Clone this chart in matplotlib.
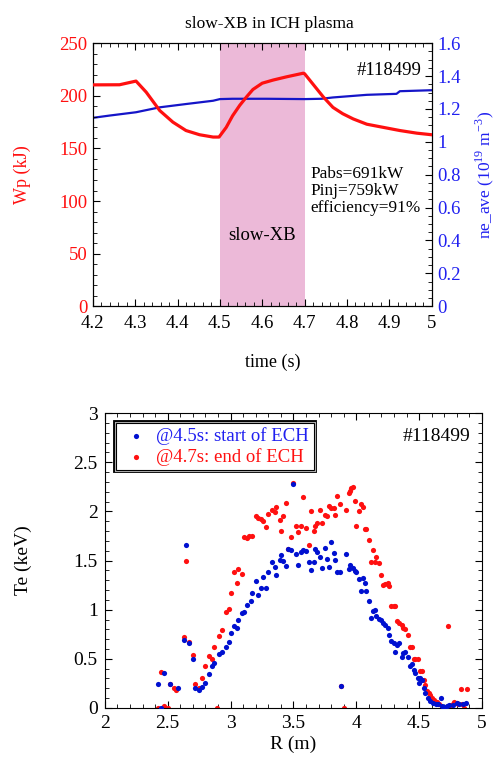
import matplotlib
matplotlib.use("Agg")
import matplotlib.pyplot as plt
import matplotlib.patheffects as pe
from matplotlib.ticker import MultipleLocator, FuncFormatter

plt.rcParams['font.family'] = ['Liberation Serif', 'DejaVu Serif']
plt.rcParams['mathtext.fontset'] = 'custom'
plt.rcParams['mathtext.rm'] = 'Liberation Serif'

# ---- top panel data ----
wp_time = [4.2, 4.263, 4.302, 4.326, 4.358, 4.389, 4.42, 4.452, 4.484, 4.498,
           4.515, 4.53, 4.547, 4.563, 4.578, 4.60, 4.626, 4.657, 4.697, 4.70,
           4.72, 4.744, 4.767, 4.79, 4.815, 4.847, 4.886, 4.925, 4.965, 5.0]
wp_val = [210.4, 210.5, 214, 203.5, 186, 175, 167, 163, 160.8, 160.8,
          170, 181, 191, 199, 206, 212, 215, 218, 221.5, 221,
          211, 199, 189, 183, 178, 173, 170, 167, 164.5, 163]
ne_time = [4.2, 4.24, 4.302, 4.358, 4.42, 4.484, 4.5, 4.53, 4.61, 4.7,
           4.74, 4.767, 4.807, 4.847, 4.917, 4.925, 5.0]
ne_val = [1.146, 1.16, 1.18, 1.21, 1.23, 1.25, 1.26, 1.262, 1.262, 1.26,
          1.262, 1.27, 1.278, 1.286, 1.292, 1.308, 1.314]
ech_start, ech_end = 4.5, 4.7

# ---- bottom panel data ----
R_45 = [2.42, 2.45, 2.47, 2.52, 2.58, 2.645, 2.63, 2.67, 2.70, 2.72, 2.75, 2.77,
        2.80, 2.83, 2.85, 2.87, 2.91, 2.93, 2.96, 2.99, 3.00, 3.03, 3.05, 3.06,
        3.09, 3.11, 3.13, 3.16, 3.17, 3.20, 3.22, 3.24, 3.26, 3.28, 3.30, 3.33,
        3.35, 3.36, 3.39, 3.40, 3.42, 3.44, 3.46, 3.48, 3.50, 3.52, 3.54, 3.56,
        3.58, 3.60, 3.62, 3.64, 3.66, 3.67, 3.69, 3.71, 3.73, 3.75, 3.77, 3.78,
        3.80, 3.82, 3.83, 3.85, 3.87, 3.88, 3.92, 3.94, 3.95, 3.97, 3.99, 4.00,
        4.02, 4.04, 4.05, 4.07, 4.08, 4.10, 4.12, 4.13, 4.15, 4.16, 4.18, 4.20,
        4.21, 4.23, 4.25, 4.26, 4.28, 4.30, 4.31, 4.32, 4.34, 4.36, 4.37, 4.39,
        4.41, 4.43, 4.44, 4.46, 4.47, 4.49, 4.51, 4.50, 4.52, 4.54, 4.55, 4.57,
        4.59, 4.61, 4.63, 4.65, 4.67, 4.68, 4.70, 4.72, 4.74, 4.77, 4.80, 4.82,
        4.85, 4.87]
Te_45 = [0.24, 0.0, 0.36, 0.24, 0.20, 1.66, 0.69, 0.66, 0.50, 0.20, 0.18, 0.21,
         0.25, 0.35, 0.43, 0.46, 0.55, 0.57, 0.62, 0.67, 0.76, 0.83, 0.81, 0.90,
         0.97, 0.98, 1.05, 1.09, 1.17, 1.29, 1.15, 1.22, 1.33, 1.22, 1.38, 1.49,
         1.43, 1.35, 1.51, 1.56, 1.50, 1.44, 1.62, 1.61, 2.28, 1.57, 1.45, 1.59,
         1.61, 1.60, 1.49, 1.40, 1.49, 1.62, 1.59, 1.54, 1.42, 1.63, 1.52, 1.43,
         1.69, 1.58, 1.51, 1.38, 1.38, 0.22, 1.57, 1.41, 1.45, 1.42, 1.39, 1.38,
         1.31, 1.19, 1.32, 1.27, 1.19, 1.09, 0.92, 0.99, 1.00, 0.94, 0.91, 0.90,
         0.86, 0.84, 0.81, 0.74, 0.68, 0.66, 0.57, 0.64, 0.66, 0.52, 0.56, 0.57,
         0.52, 0.43, 0.45, 0.39, 0.36, 0.31, 0.31, 0.25, 0.28, 0.20, 0.15, 0.10,
         0.07, 0.05, 0.04, 0.04, 0.10, 0.02, 0.01, 0.02, 0.03, 0.03, 0.05, 0.04,
         0.04, 0.05]
R_47 = [2.42, 2.45, 2.47, 2.50, 2.52, 2.55, 2.57, 2.63, 2.645, 2.67, 2.70, 2.72,
        2.75, 2.77, 2.80, 2.83, 2.85, 2.87, 2.89, 2.91, 2.93, 2.96, 2.99, 3.00,
        3.03, 3.05, 3.06, 3.09, 3.11, 3.13, 3.15, 3.17, 3.20, 3.22, 3.24, 3.26,
        3.28, 3.30, 3.33, 3.35, 3.36, 3.39, 3.40, 3.42, 3.44, 3.46, 3.48, 3.50,
        3.52, 3.54, 3.56, 3.58, 3.60, 3.62, 3.64, 3.66, 3.67, 3.69, 3.71, 3.73,
        3.75, 3.77, 3.78, 3.80, 3.82, 3.83, 3.85, 3.87, 3.88, 3.90, 3.92, 3.94,
        3.95, 3.96, 3.97, 3.99, 4.00, 4.02, 4.04, 4.05, 4.07, 4.08, 4.10, 4.12,
        4.13, 4.15, 4.16, 4.18, 4.20, 4.21, 4.23, 4.25, 4.26, 4.28, 4.30, 4.31,
        4.32, 4.34, 4.36, 4.37, 4.39, 4.41, 4.43, 4.44, 4.46, 4.47, 4.49, 4.51,
        4.52, 4.54, 4.55, 4.56, 4.58, 4.59, 4.60, 4.62, 4.64, 4.66, 4.68, 4.70,
        4.72, 4.73, 4.75, 4.77, 4.78, 4.80, 4.81, 4.83, 4.84, 4.86, 4.88]
Te_47 = [0.0, 0.37, 0.02, 0.0, 0.24, 0.20, 0.18, 0.72, 1.50, 0.67, 0.54, 0.24,
         0.20, 0.31, 0.43, 0.53, 0.50, 0.62, 0.0, 0.73, 0.79, 0.98, 1.01, 1.17,
         1.38, 1.27, 1.41, 1.36, 1.74, 1.73, 1.75, 1.75, 1.95, 1.93, 1.92, 1.90,
         1.84, 1.97, 2.01, 1.99, 2.04, 1.91, 1.80, 1.95, 2.09, 1.62, 1.74, 2.29,
         1.85, 1.79, 1.85, 2.15, 1.83, 1.66, 2.00, 1.80, 1.85, 1.88, 2.01, 1.88,
         1.96, 1.95, 2.05, 2.03, 2.03, 1.96, 2.16, 2.08, 0.22, 0.0, 2.01, 2.19,
         2.21, 2.24, 2.25, 2.11, 1.85, 2.00, 2.08, 2.04, 1.82, 1.82, 1.71, 1.49,
         1.61, 1.49, 1.54, 1.47, 1.35, 1.25, 1.26, 1.27, 1.24, 1.04, 1.04, 1.04,
         0.88, 0.86, 0.84, 0.81, 0.80, 0.74, 0.62, 0.62, 0.50, 0.50, 0.50, 0.38,
         0.38, 0.28, 0.23, 0.17, 0.15, 0.13, 0.10, 0.08, 0.06, 0.04, 0.01, 0.0,
         0.0, 0.83, 0.03, 0.04, 0.06, 0.05, 0.04, 0.19, 0.04, 0.0, 0.19]

shot = "#118499"
RED = '#ff1010'
BLUE_LINE = '#1515c8'
BLUE_TXT = '#2020f0'
fmt = FuncFormatter(lambda v, p: ('%g' % round(v, 2)))

fig = plt.figure(figsize=(4.99, 7.58), dpi=100)

# ---------------- top panel ----------------
ax1 = fig.add_axes([0.186, 0.596, 0.679, 0.347])
ax2 = ax1.twinx()
ax2.axvspan(ech_start, ech_end, color='#ecb9d8', lw=0, zorder=0)
ax2.plot(ne_time, ne_val, color=BLUE_LINE, lw=1.6, zorder=2)
ax1.plot(wp_time, wp_val, color=RED, lw=2.3, zorder=3)
ax1.set_zorder(ax2.get_zorder() + 1)
ax1.patch.set_visible(False)

ax1.set_xlim(4.2, 5.0)
ax1.set_ylim(0, 250)
ax1.xaxis.set_major_locator(MultipleLocator(0.1))
ax1.xaxis.set_minor_locator(MultipleLocator(0.02))
ax1.yaxis.set_major_locator(MultipleLocator(50))
ax1.yaxis.set_minor_locator(MultipleLocator(10))
ax1.xaxis.set_major_formatter(fmt)
ax1.tick_params(which='both', direction='in', top=True, right=False)
ax1.tick_params(which='major', length=5, width=0.8)
ax1.tick_params(which='minor', length=3, width=0.6)
ax1.tick_params(axis='x', labelsize=13.5, pad=6)
ax1.tick_params(axis='y', labelsize=13.5, labelcolor=RED, pad=4)
ax1.set_xlabel('time (s)', fontsize=13, labelpad=16)
ax1.xaxis.label.set_x(0.53)
ax1.set_ylabel('Wp (kJ)', fontsize=13, color=RED, labelpad=20)
ax1.set_title('slow-XB in ICH plasma', fontsize=12.5, pad=11, x=0.52)

ax2.set_ylim(0, 1.6)
ax2.yaxis.set_major_locator(MultipleLocator(0.2))
ax2.yaxis.set_minor_locator(MultipleLocator(0.05))
ax2.yaxis.set_major_formatter(fmt)
ax2.tick_params(which='both', direction='in')
ax2.tick_params(which='major', length=5, width=0.8)
ax2.tick_params(which='minor', length=3, width=0.6)
ax2.tick_params(axis='y', labelsize=13.5, labelcolor=BLUE_TXT, pad=4)
ax2.set_ylabel(r'ne_ave (10$^{19}$ m$^{-3}$)', fontsize=12.5, color=BLUE_TXT, labelpad=9)

ax1.text(0.97, 0.93, shot, transform=ax1.transAxes, ha='right', va='top', fontsize=13.5)
ax1.text(0.642, 0.535, 'Pabs=691kW\nPinj=759kW\nefficiency=91%', transform=ax1.transAxes,
         ha='left', va='top', fontsize=12.4, linespacing=1.1)
ax1.text(4.6, 67, 'slow-XB', ha='center', va='center', fontsize=13.5)

# ---------------- bottom panel ----------------
ax3 = fig.add_axes([0.210, 0.066, 0.756, 0.389])
ax3.scatter(R_45, Te_45, s=14, color='#0010d0', lw=0, label='@4.5s: start of ECH', zorder=3)
ax3.scatter(R_47, Te_47, s=14, color='#ff1010', lw=0, label='@4.7s: end of ECH', zorder=2)
ax3.set_xlim(2, 5)
ax3.set_ylim(0, 3)
ax3.xaxis.set_major_locator(MultipleLocator(0.5))
ax3.xaxis.set_minor_locator(MultipleLocator(0.1))
ax3.yaxis.set_major_locator(MultipleLocator(0.5))
ax3.yaxis.set_minor_locator(MultipleLocator(0.1))
ax3.xaxis.set_major_formatter(fmt)
ax3.yaxis.set_major_formatter(fmt)
ax3.tick_params(which='both', direction='in', top=True, right=True)
ax3.tick_params(which='major', length=5, width=0.8)
ax3.tick_params(which='minor', length=3, width=0.6)
ax3.tick_params(labelsize=14, pad=5)
ax3.set_xlabel('R (m)', fontsize=14, labelpad=3)
ax3.set_ylabel('Te (keV)', fontsize=14, labelpad=30)
ax3.text(0.97, 0.95, shot, transform=ax3.transAxes, ha='right', va='top', fontsize=14)

leg = ax3.legend(loc='upper left', bbox_to_anchor=(0.03, 0.968), fontsize=13.5,
                 frameon=True, fancybox=False, edgecolor='black', framealpha=1,
                 handletextpad=0.3, handlelength=1.6, borderpad=0.25,
                 labelspacing=0.15, markerscale=1.0, borderaxespad=0)
for txt, c in zip(leg.get_texts(), ['#2020f0', '#ff1010']):
    txt.set_color(c)
frame = leg.get_frame()
frame.set_linewidth(0.8)
frame.set_path_effects([pe.Stroke(linewidth=4.2, foreground='black'),
                        pe.Stroke(linewidth=2.2, foreground='#b0b0b0'),
                        pe.Normal()])

fig.savefig('out.png', dpi=100)
